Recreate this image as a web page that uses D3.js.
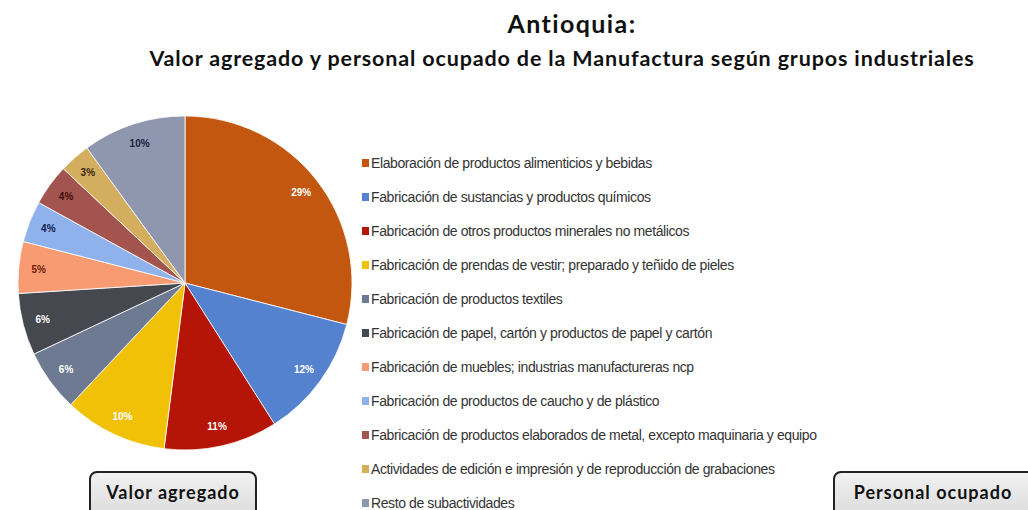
<!DOCTYPE html>
<html><head><meta charset="utf-8">
<script src="https://cdn.jsdelivr.net/npm/d3@7"></script>
<style>
html,body{margin:0;padding:0;background:#fff;}
svg{display:block;}
</style></head>
<body>
<svg id="chart" width="1028" height="510"></svg>
<script>
const categories = [
  "Elaboración de productos alimenticios y bebidas",
  "Fabricación de sustancias y productos químicos",
  "Fabricación de otros productos minerales no metálicos",
  "Fabricación de prendas de vestir; preparado y teñido de pieles",
  "Fabricación de productos textiles",
  "Fabricación de papel, cartón y productos de papel y cartón",
  "Fabricación de muebles; industrias manufactureras ncp",
  "Fabricación de productos de caucho y de plástico",
  "Fabricación de productos elaborados de metal, excepto maquinaria y equipo",
  "Actividades de edición e impresión y de reproducción de grabaciones",
  "Resto de subactividades"
];
const values = [29, 12, 11, 10, 6, 6, 5, 4, 4, 3, 10];
const colors = ["#C4570F","#5582CE","#B51506","#F0C107","#6D7A92","#45494F","#F89B73","#8FB1EC","#A4544E","#D3AE5E","#8E97AE"];
const labelColors = ["#fff","#fff","#fff","#fff","#fff","#fff","#6a1c08","#10204a","#3a1010","#3a2a10","#1a2340"];
const titleText = "Antioquia:";
const subtitleText = "Valor agregado y personal ocupado de la Manufactura según grupos industriales";
const boxLabels = ["Valor agregado", "Personal ocupado"];

const svg = d3.select("#chart");

// Titles
svg.append("text").attr("x", 572).attr("y", 33).attr("text-anchor", "middle")
  .attr("font-family", "Lato, 'Open Sans', sans-serif").attr("font-weight", "bold")
  .attr("font-size", 25).attr("letter-spacing", 1.4).attr("fill", "#111").text(titleText);
svg.append("text").attr("x", 562).attr("y", 65.5).attr("text-anchor", "middle")
  .attr("font-family", "Lato, 'Open Sans', sans-serif").attr("font-weight", "bold")
  .attr("font-size", 21.5).attr("letter-spacing", 0.85).attr("fill", "#111").text(subtitleText);

// Pie
const cx = 185, cy = 283, R = 167;
const pie = d3.pie().sort(null).value(d => d);
const arcs = pie(values);
const arc = d3.arc().innerRadius(0).outerRadius(R);
const labelArc = d3.arc().innerRadius(147).outerRadius(147);
const g = svg.append("g").attr("transform", `translate(${cx},${cy})`);
g.selectAll("path.slice").data(arcs).join("path")
  .attr("class", "slice")
  .attr("d", arc)
  .attr("fill", (d, i) => colors[i])
  .attr("stroke", "#fff").attr("stroke-width", 0.8);
g.selectAll("text.lbl").data(arcs).join("text")
  .attr("class", "lbl")
  .attr("transform", d => `translate(${labelArc.centroid(d)})`)
  .attr("text-anchor", "middle").attr("dy", "0.35em")
  .attr("font-family", "'Liberation Sans', Arial, sans-serif").attr("font-weight", "bold")
  .attr("font-size", 10).attr("fill", (d, i) => labelColors[i])
  .text(d => d.data + "%");

// Legend
const legY = d3.scaleLinear().domain([0, categories.length - 1]).range([163, 503]);
const leg = svg.append("g");
const rows = leg.selectAll("g").data(categories).join("g")
  .attr("transform", (d, i) => `translate(362,${legY(i)})`);
rows.append("rect").attr("x", 0).attr("y", -4).attr("width", 7).attr("height", 8)
  .attr("fill", (d, i) => colors[i]);
rows.append("text").attr("x", 9).attr("y", 0).attr("dy", "0.36em")
  .attr("font-family", "'Liberation Sans Narrow', 'Arial Narrow', sans-serif")
  .attr("font-size", 14).attr("letter-spacing", -0.4).attr("fill", "#333")
  .text(d => d);

// Boxes
const grad = svg.append("defs").append("linearGradient").attr("id", "bg")
  .attr("x1", 0).attr("y1", 0).attr("x2", 0).attr("y2", 1);
grad.append("stop").attr("offset", "0%").attr("stop-color", "#F2F2F2");
grad.append("stop").attr("offset", "100%").attr("stop-color", "#DADADA");
const boxes = [{x: 90, w: 166, tx: 173}, {x: 834, w: 205, tx: 933}];
boxes.forEach((b, i) => {
  svg.append("rect").attr("x", b.x).attr("y", 472).attr("width", b.w).attr("height", 48)
    .attr("rx", 7).attr("fill", "url(#bg)").attr("stroke", "#222").attr("stroke-width", 2);
  svg.append("text").attr("x", b.tx).attr("y", 498.5)
    .attr("text-anchor", "middle")
    .attr("font-family", "Lato, 'Open Sans', sans-serif").attr("font-weight", "bold")
    .attr("font-size", 18).attr("letter-spacing", 1).attr("fill", "#111").text(boxLabels[i]);
});
</script>
</body></html>
